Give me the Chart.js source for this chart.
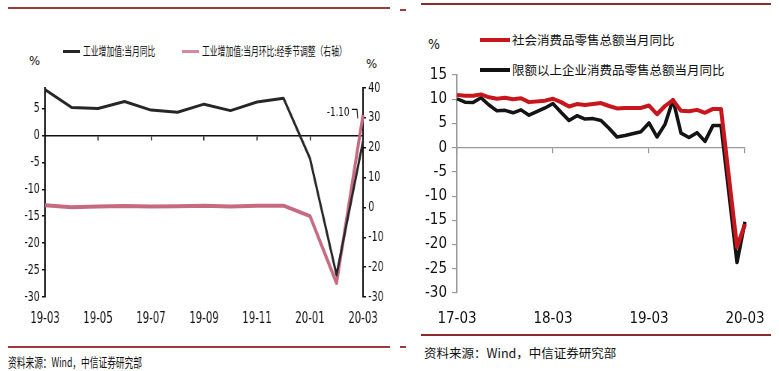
<!DOCTYPE html>
<html>
<head>
<meta charset="utf-8">
<script src="https://cdn.jsdelivr.net/npm/chart.js@4.4.1/dist/chart.umd.min.js"></script>
<style>
  body { margin: 0; background: #fff; width: 779px; height: 371px; overflow: hidden; position: relative;
         font-family: 'Noto Sans CJK SC', sans-serif; color: #111; }
  .abs { position: absolute; white-space: nowrap; line-height: 14px; }
  .rule { position: absolute; height: 2px; background: #9b3b3b; }
  .sq { display: inline-block; white-space: nowrap; transform-origin: 0 50%; }
  .key { position: absolute; height: 3px; }
  canvas { position: absolute; top: 0; }
</style>
</head>
<body>

<!-- left panel -->
<div class="rule" style="left:8px;top:7px;width:382px;"></div>
<div class="rule" style="left:400px;top:9px;width:6px;"></div>
<div class="abs" style="left:29px;top:53px;font:13px 'Liberation Sans Narrow','DejaVu Sans Condensed',sans-serif;">%</div>
<div class="key" style="left:63px;top:50px;width:17px;background:#262626;"></div>
<div class="abs" style="left:83px;top:44px;font-size:12px;"><span class="sq" style="transform:scaleX(0.65)">工业增加值:当月同比</span></div>
<div class="key" style="left:182px;top:50px;width:17px;background:#d38a9c;"></div>
<div class="abs" style="left:202px;top:44px;font-size:12px;"><span class="sq" style="transform:scaleX(0.65)">工业增加值:当月环比:经季节调整（右轴）</span></div>
<div class="abs" style="left:366px;top:56px;font:13px 'Liberation Sans Narrow','DejaVu Sans Condensed',sans-serif;">%</div>
<div class="rule" style="left:8px;top:346px;width:382px;"></div>
<div class="rule" style="left:400px;top:346px;width:6px;"></div>
<div class="abs" style="left:8px;top:355px;font-size:13px;"><span class="sq" style="transform:scaleX(0.67)">资料来源：Wind，中信证券研究部</span></div>

<!-- right panel -->
<div class="rule" style="left:421px;top:3px;width:350px;background:#8b2a2a;"></div>
<div class="abs" style="left:428px;top:36px;font:14px 'Liberation Sans Narrow','DejaVu Sans Condensed',sans-serif;">%</div>
<div class="key" style="left:480px;top:38px;width:30px;height:4px;background:#c8161d;"></div>
<div class="abs" style="left:512px;top:33px;font-size:12.5px;">社会消费品零售总额当月同比</div>
<div class="key" style="left:480px;top:68px;width:30px;height:4px;background:#111;"></div>
<div class="abs" style="left:512px;top:63px;font-size:12.5px;">限额以上企业消费品零售总额当月同比</div>
<div class="rule" style="left:421px;top:334px;width:350px;background:#8b2a2a;"></div>
<div class="abs" style="left:424px;top:346px;font-size:12.5px;">资料来源：Wind，中信证券研究部</div>

<canvas id="c1" width="533" height="330" style="left:0;width:533px;height:330px;transform:scaleX(0.75);transform-origin:0 0;"></canvas>
<canvas id="c2" width="379" height="330" style="left:400px;width:379px;height:330px;"></canvas>

<script>
// industrial value added, 2019-03 .. 2020-03
const iavMonths = ['19-03', '19-04', '19-05', '19-06', '19-07', '19-08', '19-09',
                   '19-10', '19-11', '19-12', '20-01', '20-02', '20-03'];
const iavYoy = [8.5, 5.2, 5.0, 6.3, 4.7, 4.3, 5.8, 4.6, 6.2, 6.9, -4.3, -25.9, -1.1];
const iavMom = [0.7, 0.1, 0.3, 0.5, 0.3, 0.4, 0.6, 0.3, 0.6, 0.6, -2.9, -25.3, 31.0];

// retail sales, 2017-03 .. 2020-03 (January not published)
const retailMonths = ['17-03', '17-04', '17-05', '17-06', '17-07', '17-08', '17-09', '17-10', '17-11', '17-12',
                      '18-01', '18-02', '18-03', '18-04', '18-05', '18-06', '18-07', '18-08', '18-09', '18-10', '18-11', '18-12',
                      '19-01', '19-02', '19-03', '19-04', '19-05', '19-06', '19-07', '19-08', '19-09', '19-10', '19-11', '19-12',
                      '20-01', '20-02', '20-03'];
const retailYoy = [10.9, 10.7, 10.7, 11.0, 10.4, 10.1, 10.3, 10.0, 10.2, 9.4,
                   null, 9.7, 10.1, 9.4, 8.5, 9.0, 8.8, 9.0, 9.2, 8.6, 8.1, 8.2,
                   null, 8.2, 8.7, 6.9, 8.6, 9.8, 7.6, 7.5, 7.8, 7.2, 8.0, 8.0,
                   null, -20.5, -15.8];
const retailAboveYoy = [10.1, 9.4, 9.3, 10.3, 8.8, 7.6, 7.7, 7.2, 7.8, 6.7,
                        null, 8.2, 9.1, 7.3, 5.6, 6.6, 5.9, 6.0, 5.6, 4.0, 2.2, 2.5,
                        null, 3.3, 5.1, 2.2, 4.8, 9.9, 3.0, 2.1, 3.1, 1.3, 4.6, 4.6,
                        null, -23.7, -15.3];

const narrow = "'Liberation Sans Narrow', 'Arial Narrow', 'DejaVu Sans Condensed', sans-serif";

// label for the last yoy point
const lastLabel = {
    id: 'lastLabel',
    afterDatasetsDraw(chart) {
        const { ctx, scales } = chart;
        const i = iavYoy.length - 1;
        const px = scales.x.getPixelForValue(i);
        const py = scales.y.getPixelForValue(iavYoy[i]);
        ctx.save();
        ctx.font = '13px ' + narrow;
        ctx.fillStyle = '#111';
        ctx.textAlign = 'right';
        ctx.textBaseline = 'middle';
        ctx.fillText(iavYoy[i].toFixed(2), px - 18, py - 29);
        ctx.strokeStyle = '#111';
        ctx.lineWidth = 1.2;
        ctx.beginPath();
        ctx.moveTo(px - 15, py - 32);
        ctx.lineTo(px - 8, py - 32);
        ctx.lineTo(px - 7, py - 23);
        ctx.stroke();
        ctx.restore();
    }
};

const everyN = n => s => { s.ticks = s.ticks.filter(t => t.value % n === 0); };

new Chart(document.getElementById('c1'), {
    type: 'line',
    data: {
        labels: iavMonths,
        datasets: [
            { label: '工业增加值:当月同比', data: iavYoy, yAxisID: 'y', borderColor: '#262626', borderWidth: 3 },
            { label: '工业增加值:当月环比:经季节调整（右轴）', data: iavMom, yAxisID: 'y1', borderColor: '#c66a80', borderWidth: 4 }
        ]
    },
    options: {
        responsive: false,
        animation: false,
        layout: { padding: { top: 88, left: 0, right: 0, bottom: 0 } },
        elements: { point: { radius: 0 }, line: { tension: 0, borderJoinStyle: 'round' } },
        plugins: { legend: { display: false }, tooltip: { enabled: false } },
        scales: {
            x: {
                grid: { display: false },
                border: { display: false },
                ticks: { autoSkip: false, maxRotation: 0, padding: 5, color: '#111', font: { family: narrow, size: 15 } },
                afterBuildTicks: everyN(2),
                afterFit: s => { s.height = 33; }
            },
            x0: {
                type: 'category',
                position: { y: 0 },
                grid: { drawOnChartArea: false, tickLength: 4, color: '#111', lineWidth: 1.5 },
                border: { color: '#111', width: 1.5 },
                ticks: { display: false },
                afterBuildTicks: everyN(2)
            },
            y: {
                position: 'left',
                min: -30, max: 8.8,
                ticks: { stepSize: 5, padding: 3, color: '#111', font: { family: narrow, size: 14 } },
                grid: { drawOnChartArea: false, tickLength: 4, color: '#111', lineWidth: 1.5 },
                border: { color: '#111', width: 2 },
                afterBuildTicks: everyN(5),
                afterFit: s => { s.width = 60; }
            },
            y1: {
                position: 'right',
                min: -30, max: 40,
                ticks: { stepSize: 10, padding: 3, color: '#111', font: { family: narrow, size: 14 } },
                grid: { drawOnChartArea: false, tickLength: 4, color: '#111', lineWidth: 1.5 },
                border: { color: '#111', width: 2 },
                afterFit: s => { s.width = 49; }
            }
        }
    },
    plugins: [lastLabel]
});

new Chart(document.getElementById('c2'), {
    type: 'line',
    data: {
        labels: retailMonths,
        datasets: [
            { label: '社会消费品零售总额当月同比', data: retailYoy, borderColor: '#c8161d', borderWidth: 4, spanGaps: true },
            { label: '限额以上企业消费品零售总额当月同比', data: retailAboveYoy, borderColor: '#141414', borderWidth: 3.5, spanGaps: true }
        ]
    },
    options: {
        responsive: false,
        animation: false,
        layout: { padding: { top: 75, left: 0, right: 34, bottom: 0 } },
        elements: { point: { radius: 0 }, line: { tension: 0, borderJoinStyle: 'round' } },
        plugins: { legend: { display: false }, tooltip: { enabled: false } },
        scales: {
            x: {
                grid: { display: false },
                border: { display: false },
                ticks: { autoSkip: false, maxRotation: 0, padding: 9, color: '#111', font: { family: narrow, size: 15 } },
                afterBuildTicks: everyN(12),
                afterFit: s => { s.height = 37; }
            },
            x0: {
                type: 'category',
                position: { y: 0 },
                grid: { drawOnChartArea: false, tickLength: 5, color: '#9a9a9a', lineWidth: 1.2 },
                border: { color: '#9a9a9a', width: 1.2 },
                ticks: { display: false },
                afterBuildTicks: everyN(12)
            },
            y: {
                min: -30, max: 15,
                ticks: { stepSize: 5, padding: 5, color: '#111', font: { family: narrow, size: 15 } },
                grid: { drawOnChartArea: false, tickLength: 5, color: '#9a9a9a', lineWidth: 1.2 },
                border: { color: '#9a9a9a', width: 1.5 },
                afterFit: s => { s.width = 57; }
            }
        }
    }
});
</script>
</body>
</html>
